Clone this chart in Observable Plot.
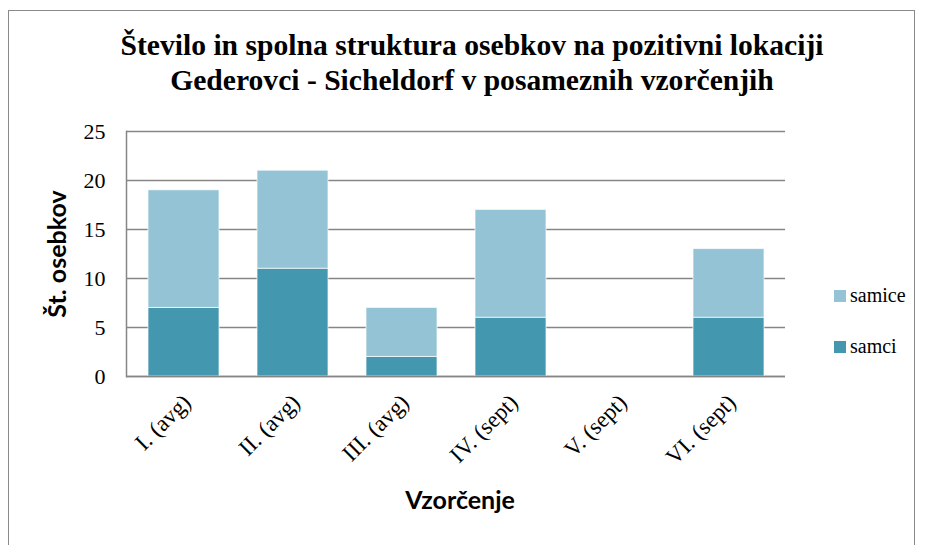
<!DOCTYPE html>
<html>
<head>
<meta charset="utf-8">
<script src="https://cdn.jsdelivr.net/npm/d3@7"></script>
<script src="https://cdn.jsdelivr.net/npm/@observablehq/plot@0.6"></script>
<style>
  html, body { margin: 0; padding: 0; background: #fff; }
  #wrap { position: relative; width: 926px; height: 545px; overflow: hidden; }
  #frame { position: absolute; left: 8px; top: 10px; width: 907px; height: 560px; border: 1.5px solid #8a8a8a; box-sizing: border-box; }
  #title { position: absolute; left: 9px; top: 28px; width: 926px; text-align: center; font-family: 'Liberation Serif'; font-weight: bold; font-size: 29.6px; line-height: 35px; color: #000; }
  .leg { position: absolute; left: 834px; font-family: 'Liberation Serif'; font-size: 20px; color: #000; display: flex; align-items: center; }
  .leg span.sw { display: inline-block; width: 12px; height: 12px; margin-right: 4px; }
  #chart { position: absolute; left: 0; top: 0; }
</style>
</head>
<body>
<div id="wrap">
  <div id="frame"></div>
  <div id="chart"></div>
  <div id="title">Število in spolna struktura osebkov na pozitivni lokaciji<br>Gederovci - Sicheldorf v posameznih vzorčenjih</div>
  <div class="leg" style="top:284px"><span class="sw" style="background:#93c3d4"></span>samice</div>
  <div class="leg" style="top:335px"><span class="sw" style="background:#4397af"></span>samci</div>
</div>
<script>
const categories = ["I. (avg)", "II. (avg)", "III. (avg)", "IV. (sept)", "V. (sept)", "VI. (sept)"];
const samci = [7, 11, 2, 6, 0, 6];
const samice = [12, 10, 5, 11, 0, 7];
const seriesNames = ["samci", "samice"];
const yTicks = [0, 5, 10, 15, 20, 25];
const colors = ["#4397af", "#93c3d4"];

const data = [];
categories.forEach((c, i) => {
  data.push({cat: c, spol: "samci", n: samci[i]});
  data.push({cat: c, spol: "samice", n: samice[i]});
});

const serif = "Liberation Serif";
const chart = Plot.plot({
  width: 926,
  height: 545,
  marginLeft: 126,
  marginRight: 141,
  marginTop: 131,
  marginBottom: 169,
  style: {background: "transparent", fontFamily: serif, fontSize: "20px", color: "#000"},
  x: {domain: categories, paddingInner: 0.353, paddingOuter: 0.1765, label: null},
  y: {domain: [0, 25], label: null},
  color: {domain: seriesNames, range: colors},
  marks: [
    Plot.gridY(yTicks, {stroke: "#868686", strokeOpacity: 1, strokeWidth: 1.5}),
    Plot.barY(data, Plot.stackY({x: "cat", y: "n", fill: "spol", order: seriesNames, stroke: "#ffffff", strokeOpacity: 0.7, strokeWidth: 1})),
    Plot.ruleY([0], {stroke: "#868686", strokeWidth: 1.5}),
    Plot.frame({anchor: "left", stroke: "#868686", strokeWidth: 1.5}),
    Plot.axisY(yTicks, {tickSize: 0, tickPadding: 21, fontSize: 22, fontFamily: serif, fill: "#000", label: null}),
    Plot.axisX({tickSize: 0, tickPadding: 22, dx: 3, tickRotate: -45, fontSize: 23, fontFamily: serif, fill: "#000", label: null}),
    Plot.text(["Vzorčenje"], {frameAnchor: "bottom", dy: 132, dx: 4, fontFamily: "Lato", fontWeight: "bold", fontSize: 25, fill: "#000"}),
    Plot.text(["Št. osebkov"], {frameAnchor: "left", textAnchor: "middle", dx: -69, rotate: -90, fontFamily: "Lato", fontWeight: "bold", fontSize: 25, fill: "#000"})
  ]
});
document.getElementById("chart").appendChild(chart);
</script>
</body>
</html>
